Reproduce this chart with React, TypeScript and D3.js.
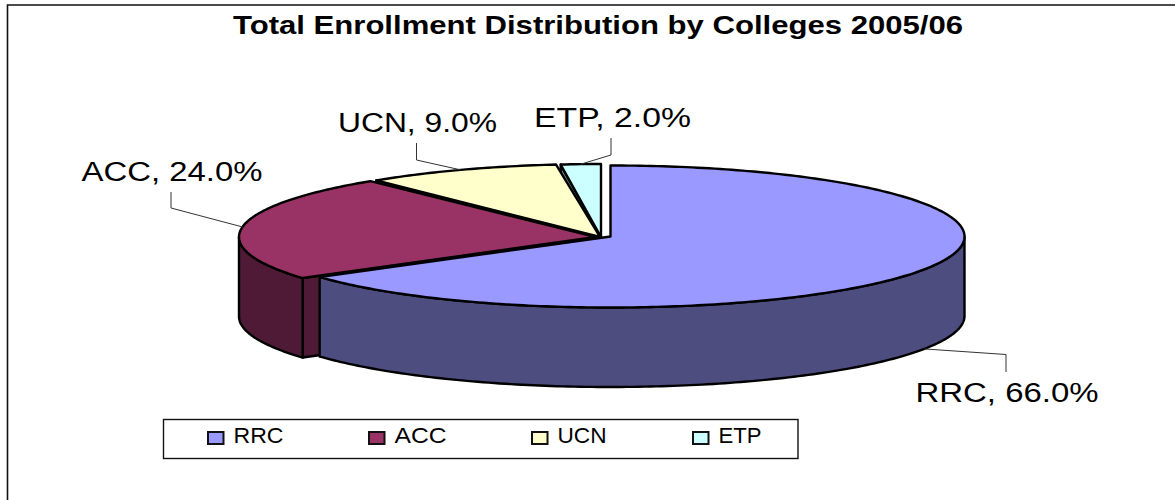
import React from "react";
import * as d3 from "d3";

const categories = ["RRC", "ACC", "UCN", "ETP"];
const shares = [66, 24, 9, 2];
const labels = ["RRC, 66.0%", "ACC, 24.0%", "UCN, 9.0%", "ETP, 2.0%"];
const topColors = ["#9999ff", "#993366", "#ffffcc", "#ccffff"];
const sideColors = ["#4d4d80", "#4f1a35", "#80806a", "#668080"];
const title = "Total Enrollment Distribution by Colleges 2005/06";

// layout: each slice is exploded a little, so each has its own ellipse
const cx = [610.5, 596, 600, 601];
const cy = [236.5, 237, 237, 237];
const rx = [354, 357, 354, 325];
const ry = [71, 72, 73, 73];
const depth = 79.5;
const labelBox = [
  { x: 915.5, y: 402, w: 183, elbowX: 1006, elbowY: 354.5, endY: 372 },
  { x: 81.5, y: 180.5, w: 181, elbowX: 171, elbowY: 208, endY: 192 },
  { x: 338, y: 132, w: 159, elbowX: 416.5, elbowY: 160, endY: 143 },
  { x: 534, y: 127, w: 157, elbowX: 611, elbowY: 155, endY: 138 },
];
const legendX = [208, 369, 532, 693];
const legendW = [50, 52, 49, 43];

const FONT = "'Liberation Sans', Arial, sans-serif";

export default function App() {
  const arcs = d3.pie<number>().sort(null).value((d) => d)(shares);
  const pt = (i: number, a: number, dy = 0): [number, number] => [
    cx[i] + rx[i] * Math.sin(a),
    cy[i] - ry[i] * Math.cos(a) + dy,
  ];
  const line = d3.line<[number, number]>();
  const sample = (a0: number, a1: number) => {
    const n = Math.max(2, Math.ceil(Math.abs(a1 - a0) * 60));
    return d3.range(n + 1).map((k) => a0 + ((a1 - a0) * k) / n);
  };
  const topPath = (i: number) => {
    const { startAngle: s, endAngle: e } = arcs[i];
    return (
      line([[cx[i], cy[i]] as [number, number], ...sample(s, e).map((a) => pt(i, a))]) + "Z"
    );
  };
  // outer wall: only the part of the rim facing the viewer
  const wallPath = (i: number) => {
    const s = Math.max(arcs[i].startAngle, Math.PI / 2);
    const e = Math.min(arcs[i].endAngle, (3 * Math.PI) / 2);
    if (e <= s) return null;
    const as = sample(s, e);
    return (
      line([
        ...as.map((a) => pt(i, a)),
        ...as.slice().reverse().map((a) => pt(i, a, depth)),
      ]) + "Z"
    );
  };
  // the cut face along a slice's start edge
  const facePath = (i: number) => {
    const s = arcs[i].startAngle;
    return (
      line([
        [cx[i], cy[i]],
        pt(i, s),
        pt(i, s, depth),
        [cx[i], cy[i] + depth],
      ]) + "Z"
    );
  };
  const order = [3, 2, 1, 0];

  return (
    <svg
      width={1175}
      height={500}
      style={{ position: "absolute", left: 0, top: 0, background: "#fff" }}
      fontFamily={FONT}
    >
      <path d="M7.5,500V5H1175" fill="none" stroke="#111" strokeWidth={1.6} />
      <text
        x={233}
        y={34}
        fontSize={25}
        fontWeight="bold"
        textLength={730}
        lengthAdjust="spacingAndGlyphs"
        fill="#000"
      >
        {title}
      </text>

      {order.map((i) => (
        <g key={categories[i]} stroke="#000" strokeWidth={2.4} strokeLinejoin="round">
          {i !== 0 && <path d={facePath(i)} fill={sideColors[i]} />}
          {wallPath(i) && <path d={wallPath(i)!} fill={sideColors[i]} />}
          <path d={topPath(i)} fill={topColors[i]} />
        </g>
      ))}

      {arcs.map((a, i) => {
        const mid = (a.startAngle + a.endAngle) / 2;
        const front = Math.cos(mid) < 0;
        const anchor = pt(i, mid, front ? depth : 0);
        const b = labelBox[i];
        return (
          <g key={categories[i]}>
            <path
              d={line([anchor, [b.elbowX, b.elbowY], [b.elbowX, b.endY]])!}
              fill="none"
              stroke="#333"
              strokeWidth={1}
            />
            <text
              x={b.x}
              y={b.y}
              fontSize={27}
              textLength={b.w}
              lengthAdjust="spacingAndGlyphs"
              fill="#000"
            >
              {labels[i]}
            </text>
          </g>
        );
      })}

      <rect x={163.5} y={419.5} width={634.5} height={39} fill="#fff" stroke="#111" strokeWidth={1.4} />
      {categories.map((c, i) => (
        <g key={c}>
          <rect
            x={legendX[i]}
            y={432}
            width={15.5}
            height={12}
            fill={topColors[i]}
            stroke="#111"
            strokeWidth={2}
          />
          <text
            x={legendX[i] + 25.5}
            y={443}
            fontSize={22}
            textLength={legendW[i]}
            lengthAdjust="spacingAndGlyphs"
            fill="#000"
          >
            {c}
          </text>
        </g>
      ))}
    </svg>
  );
}
